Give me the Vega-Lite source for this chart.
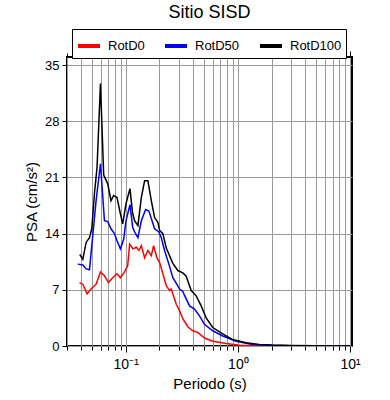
{
  "$schema": "https://vega.github.io/schema/vega-lite/v6.json",
  "width": 285,
  "height": 289,
  "autosize": "none",
  "padding": {"left": 67, "top": 57, "right": 38, "bottom": 54},
  "title": {"text": "Sitio SISD", "fontSize": 18, "fontWeight": "normal", "font": "Liberation Sans", "color": "black", "anchor": "middle", "offset": 7},
  "data": {"values": [
    {"s":"RotD0","T":0.0388,"V":7.9},{"s":"RotD0","T":0.0415,"V":7.7},{"s":"RotD0","T":0.0453,"V":6.5},{"s":"RotD0","T":0.0491,"V":7.1},{"s":"RotD0","T":0.0545,"V":7.7},{"s":"RotD0","T":0.0596,"V":9.2},{"s":"RotD0","T":0.0647,"V":8.75},{"s":"RotD0","T":0.0702,"V":7.9},{"s":"RotD0","T":0.0766,"V":8.5},{"s":"RotD0","T":0.0837,"V":9.0},{"s":"RotD0","T":0.0897,"V":8.5},{"s":"RotD0","T":0.0974,"V":9.2},{"s":"RotD0","T":0.1042,"V":10.0},{"s":"RotD0","T":0.1085,"V":12.7},{"s":"RotD0","T":0.1161,"V":12.1},{"s":"RotD0","T":0.1245,"V":12.3},{"s":"RotD0","T":0.1313,"V":11.9},{"s":"RotD0","T":0.1379,"V":12.5},{"s":"RotD0","T":0.1475,"V":11.0},{"s":"RotD0","T":0.1578,"V":11.9},{"s":"RotD0","T":0.1692,"V":11.25},{"s":"RotD0","T":0.1774,"V":12.5},{"s":"RotD0","T":0.1898,"V":11.0},{"s":"RotD0","T":0.2006,"V":10.4},{"s":"RotD0","T":0.2146,"V":9.0},{"s":"RotD0","T":0.2301,"V":7.5},{"s":"RotD0","T":0.2461,"V":6.9},{"s":"RotD0","T":0.2548,"V":7.1},{"s":"RotD0","T":0.2823,"V":5.2},{"s":"RotD0","T":0.302,"V":4.4},{"s":"RotD0","T":0.3231,"V":3.4},{"s":"RotD0","T":0.358,"V":2.4},{"s":"RotD0","T":0.3965,"V":1.9},{"s":"RotD0","T":0.4393,"V":1.7},{"s":"RotD0","T":0.5038,"V":1.0},{"s":"RotD0","T":0.597,"V":0.6},{"s":"RotD0","T":0.7857,"V":0.3},{"s":"RotD0","T":1.031,"V":0.1},{"s":"RotD0","T":1.5,"V":0.05},{"s":"RotD0","T":2,"V":0.03},{"s":"RotD0","T":3,"V":0.02},{"s":"RotD0","T":5,"V":0.01},{"s":"RotD0","T":10,"V":0.005},
    {"s":"RotD50","T":0.0374,"V":10.2},{"s":"RotD50","T":0.0415,"V":10.1},{"s":"RotD50","T":0.0444,"V":9.6},{"s":"RotD50","T":0.0476,"V":9.5},{"s":"RotD50","T":0.0545,"V":18.1},{"s":"RotD50","T":0.0596,"V":22.7},{"s":"RotD50","T":0.0647,"V":15.6},{"s":"RotD50","T":0.0692,"V":15.5},{"s":"RotD50","T":0.074,"V":14.6},{"s":"RotD50","T":0.0794,"V":14.0},{"s":"RotD50","T":0.0837,"V":13.1},{"s":"RotD50","T":0.0897,"V":12.1},{"s":"RotD50","T":0.096,"V":13.3},{"s":"RotD50","T":0.1006,"V":15.6},{"s":"RotD50","T":0.1092,"V":17.6},{"s":"RotD50","T":0.1154,"V":14.8},{"s":"RotD50","T":0.1202,"V":14.2},{"s":"RotD50","T":0.1286,"V":13.5},{"s":"RotD50","T":0.1379,"V":15.6},{"s":"RotD50","T":0.1506,"V":17.0},{"s":"RotD50","T":0.1611,"V":16.8},{"s":"RotD50","T":0.1811,"V":14.6},{"s":"RotD50","T":0.1977,"V":14.2},{"s":"RotD50","T":0.2077,"V":13.5},{"s":"RotD50","T":0.2146,"V":12.7},{"s":"RotD50","T":0.2222,"V":11.9},{"s":"RotD50","T":0.2426,"V":10.2},{"s":"RotD50","T":0.2633,"V":8.5},{"s":"RotD50","T":0.2917,"V":7.5},{"s":"RotD50","T":0.302,"V":7.1},{"s":"RotD50","T":0.3231,"V":6.8},{"s":"RotD50","T":0.3346,"V":6.3},{"s":"RotD50","T":0.3707,"V":5.0},{"s":"RotD50","T":0.4106,"V":4.6},{"s":"RotD50","T":0.4548,"V":3.75},{"s":"RotD50","T":0.5038,"V":2.7},{"s":"RotD50","T":0.597,"V":1.9},{"s":"RotD50","T":0.7328,"V":1.25},{"s":"RotD50","T":0.9638,"V":0.6},{"s":"RotD50","T":1.354,"V":0.2},{"s":"RotD50","T":2,"V":0.08},{"s":"RotD50","T":3,"V":0.04},{"s":"RotD50","T":5,"V":0.02},{"s":"RotD50","T":10,"V":0.008},
    {"s":"RotD100","T":0.039,"V":11.4},{"s":"RotD100","T":0.0415,"V":10.8},{"s":"RotD100","T":0.0444,"V":12.9},{"s":"RotD100","T":0.0476,"V":13.5},{"s":"RotD100","T":0.0499,"V":14.6},{"s":"RotD100","T":0.0527,"V":19.0},{"s":"RotD100","T":0.0556,"V":22.3},{"s":"RotD100","T":0.0596,"V":32.7},{"s":"RotD100","T":0.0637,"V":21.3},{"s":"RotD100","T":0.0692,"V":20.2},{"s":"RotD100","T":0.074,"V":18.1},{"s":"RotD100","T":0.0782,"V":18.75},{"s":"RotD100","T":0.0837,"V":18.5},{"s":"RotD100","T":0.0897,"V":16.5},{"s":"RotD100","T":0.094,"V":15.2},{"s":"RotD100","T":0.1006,"V":17.7},{"s":"RotD100","T":0.1092,"V":19.6},{"s":"RotD100","T":0.1154,"V":16.5},{"s":"RotD100","T":0.1202,"V":15.6},{"s":"RotD100","T":0.1286,"V":15.0},{"s":"RotD100","T":0.1379,"V":18.5},{"s":"RotD100","T":0.1475,"V":20.6},{"s":"RotD100","T":0.1578,"V":20.6},{"s":"RotD100","T":0.1692,"V":18.1},{"s":"RotD100","T":0.1811,"V":16.0},{"s":"RotD100","T":0.1937,"V":15.4},{"s":"RotD100","T":0.2006,"V":14.4},{"s":"RotD100","T":0.2146,"V":14.0},{"s":"RotD100","T":0.2301,"V":12.2},{"s":"RotD100","T":0.2633,"V":10.3},{"s":"RotD100","T":0.2917,"V":9.4},{"s":"RotD100","T":0.3231,"V":9.1},{"s":"RotD100","T":0.3464,"V":8.7},{"s":"RotD100","T":0.358,"V":8.1},{"s":"RotD100","T":0.3838,"V":6.9},{"s":"RotD100","T":0.4251,"V":6.25},{"s":"RotD100","T":0.4709,"V":5.0},{"s":"RotD100","T":0.5216,"V":3.5},{"s":"RotD100","T":0.597,"V":2.3},{"s":"RotD100","T":0.7328,"V":1.5},{"s":"RotD100","T":0.899,"V":0.8},{"s":"RotD100","T":1.183,"V":0.4},{"s":"RotD100","T":1.553,"V":0.2},{"s":"RotD100","T":2,"V":0.12},{"s":"RotD100","T":3,"V":0.06},{"s":"RotD100","T":5,"V":0.03},{"s":"RotD100","T":10,"V":0.01}
  ]},
  "layer": [
    {
      "mark": {"type": "line", "strokeWidth": 1.5, "clip": true},
      "encoding": {
        "x": {"field": "T", "type": "quantitative",
          "scale": {"type": "log", "domain": [0.03, 10.4], "nice": false},
          "axis": {"orient": "bottom", "title": "Periodo (s)", "titlePadding": 5, "titleFontSize": 15,
            "values": [0.03,0.04,0.05,0.06,0.07,0.08,0.09,0.1,0.2,0.3,0.4,0.5,0.6,0.7,0.8,0.9,1,2,3,4,5,6,7,8,9,10],
            "labelExpr": "datum.value == 0.1 ? '10⁻¹' : datum.value == 1 ? '10⁰' : datum.value == 10 ? '10¹' : ''",
            "tickSize": {"condition": {"test": "datum.value == 0.1 || datum.value == 1 || datum.value == 10", "value": 6}, "value": 4},
            "labelPadding": 5, "labelFontSize": 14, "grid": true}},
        "y": {"field": "V", "type": "quantitative",
          "scale": {"domain": [0, 36], "nice": false},
          "axis": {"title": "PSA (cm/s²)", "titleFontSize": 15, "values": [0,7,14,21,28,35], "tickSize": 5, "labelPadding": 3, "labelFontSize": 13, "titlePadding": 5, "grid": true}},
        "color": {"field": "s", "type": "nominal",
          "scale": {"domain": ["RotD0","RotD50","RotD100"], "range": ["#ff0000","#0000ff","#000000"]},
          "legend": {"orient": "none", "legendX": 5, "legendY": -28, "direction": "horizontal", "title": null,
            "strokeColor": "black", "padding": 4, "fillColor": "white",
            "symbolType": "stroke", "symbolStrokeWidth": 4, "symbolSize": 484,
            "labelFontSize": 13, "labelFont": "Liberation Sans", "labelColor": "black", "labelOffset": 6, "columnPadding": 12}},
        "order": {"field": "s", "sort": "ascending"}
      }
    },
    {
      "mark": {"type": "line", "opacity": 0},
      "encoding": {
        "x": {"field": "T", "type": "quantitative",
          "axis": {"orient": "top", "title": null, "grid": false,
            "values": [0.03,0.04,0.05,0.06,0.07,0.08,0.09,0.1,0.2,0.3,0.4,0.5,0.6,0.7,0.8,0.9,1,2,3,4,5,6,7,8,9,10],
            "labels": false,
            "tickSize": {"condition": {"test": "datum.value == 0.1 || datum.value == 1 || datum.value == 10", "value": 6}, "value": 4}}},
        "y": {"field": "V", "type": "quantitative"},
        "detail": {"field": "s"}
      }
    }
  ],
  "resolve": {"axis": {"x": "independent"}},
  "config": {
    "font": "Liberation Sans",
    "view": {"stroke": "black", "strokeWidth": 2},
    "axis": {"domain": false, "labelFontSize": 12, "labelColor": "black", "tickColor": "black", "tickWidth": 1,
      "titleFontSize": 14, "titleFontWeight": "normal", "titleColor": "black",
      "gridColor": "#9a9a9a", "gridOpacity": 1, "gridWidth": 1, "labelFont": "Liberation Sans", "titleFont": "Liberation Sans"}
  }
}
